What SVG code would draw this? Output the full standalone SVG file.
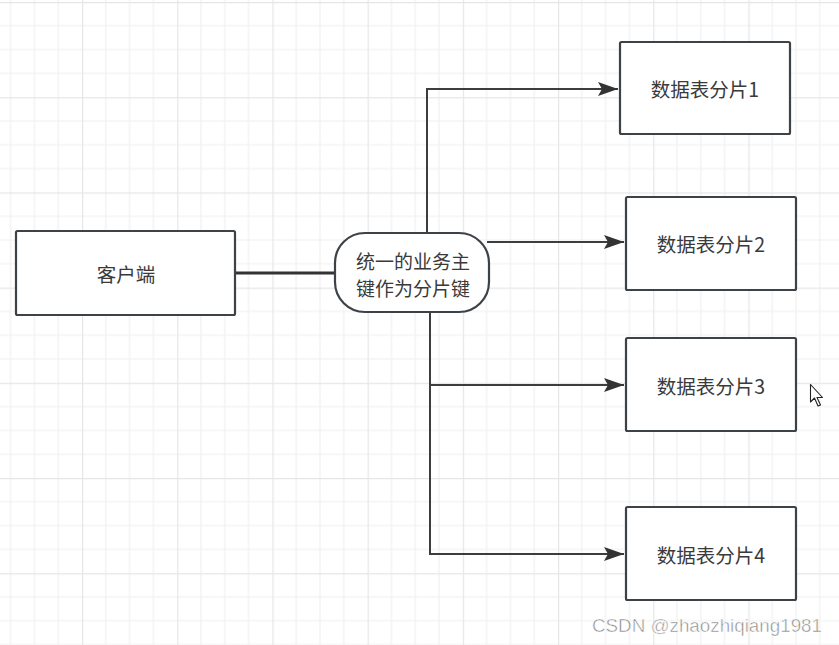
<svg xmlns="http://www.w3.org/2000/svg" width="839" height="645" viewBox="0 0 839 645">
<style>
.box{fill:#fff;stroke:#3d4247;stroke-width:2.2}
.lbl{font-family:"Noto Sans CJK SC","Microsoft YaHei",sans-serif;font-size:19.5px;fill:#3a3a3a;text-anchor:middle;dominant-baseline:central}
.conn{fill:none;stroke:#3d3d3d;stroke-width:2}
.wm{font-family:"Liberation Sans",Arial,sans-serif;font-size:18px;fill:#8a8a8a;stroke:#fff;stroke-width:0.5}
</style>
<defs>
<pattern id="grid" patternUnits="userSpaceOnUse" x="82" y="2" width="95.2" height="95.2">
<path d="M23.8 0V95.2M47.6 0V95.2M71.4 0V95.2M0 23.8H95.2M0 47.6H95.2M0 71.4H95.2" stroke="#f0f0f0" stroke-width="1.2" fill="none"/>
<path d="M0.5 0V95.2M0 0.5H95.2" stroke="#e6e6e6" stroke-width="1.4" fill="none"/>
</pattern>
<marker id="arr" markerUnits="userSpaceOnUse" markerWidth="22" markerHeight="16" refX="20" refY="8" orient="auto">
<path d="M0 1L20 8L0 15L4 8Z" fill="#333"/>
</marker>
</defs>
<rect width="839" height="645" fill="#fff"/>
<rect width="839" height="645" fill="url(#grid)"/>
<g id="connectors">
<line x1="235" y1="273" x2="336" y2="273" stroke="#333" stroke-width="3.2"/>
<path class="conn" d="M427 233V89H618" marker-end="url(#arr)"/>
<path class="conn" d="M487 242H624" marker-end="url(#arr)"/>
<path class="conn" d="M430 312V385H624" marker-end="url(#arr)"/>
<path class="conn" d="M430 385V554H624" marker-end="url(#arr)"/>
</g>
<g id="client">
<rect class="box" x="16" y="231" width="219" height="84" rx="1.5"/>
<text class="lbl" x="126" y="273">客户端</text>
</g>
<g id="shardkey">
<rect class="box" x="335" y="233" width="154" height="79" rx="30" ry="30"/>
<text class="lbl" x="413" y="260" style="font-size:19px">统一的业务主</text>
<text class="lbl" x="413" y="287" style="font-size:19px">键作为分片键</text>
</g>
<g id="shard1">
<rect class="box" x="620" y="42" width="170" height="92" rx="1.5"/>
<text class="lbl" x="705" y="88">数据表分片1</text>
</g>
<g id="shard2">
<rect class="box" x="626" y="197" width="170" height="93" rx="1.5"/>
<text class="lbl" x="711" y="243">数据表分片2</text>
</g>
<g id="shard3">
<rect class="box" x="626" y="338" width="170" height="93" rx="1.5"/>
<text class="lbl" x="711" y="385">数据表分片3</text>
</g>
<g id="shard4">
<rect class="box" x="626" y="507" width="170" height="93" rx="1.5"/>
<text class="lbl" x="711" y="554">数据表分片4</text>
</g>
<path d="M810.5 384.5V402L814.5 398L818 406L820.5 405L817 397.5H822.5Z" fill="#fff" stroke="#222" stroke-width="1.1" stroke-linejoin="round"/>
<text class="wm" x="592" y="632" textLength="230" lengthAdjust="spacingAndGlyphs">CSDN @zhaozhiqiang1981</text>
</svg>
